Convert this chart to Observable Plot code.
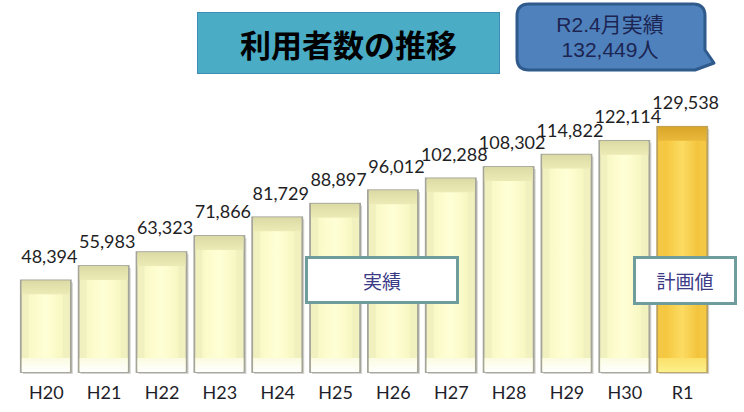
<!DOCTYPE html>
<html><head><meta charset="utf-8">
<script src="https://cdn.jsdelivr.net/npm/d3@7"></script>
<script src="https://cdn.jsdelivr.net/npm/@observablehq/plot@0.6"></script>
<style>
body{margin:0;background:#fff;}
#wrap{position:relative;width:744px;height:412px;overflow:hidden;font-family:"Noto Sans CJK JP",sans-serif;}
#chart{position:absolute;left:0;top:0;}
.title{position:absolute;left:197px;top:12px;width:301px;height:60px;background:#4bacc6;border:1px solid #3d8db5;
 display:flex;align-items:center;justify-content:center;font-size:31px;font-weight:bold;color:#000;}
.note{position:absolute;background:#fff;border:3px solid #6f9c9c;display:flex;align-items:center;justify-content:center;
 font-size:19px;color:#3a3a86;box-sizing:border-box;}
#callout{position:absolute;left:512px;top:0;}
</style></head>
<body>
<div id="wrap">
  <div id="chart"></div>
  <div class="title">利用者数の推移</div>
  <svg id="callout" width="220" height="80">
    <path d="M17,4 H181 Q193,4 193,16 V50 L202,63 L183,70 H17 Q5,70 5,58 V16 Q5,4 17,4 Z" fill="#4f81bd" stroke="#2f5a8c" stroke-width="3" stroke-linejoin="round"/>
    <text x="98" y="32" text-anchor="middle" font-size="21" fill="#1c2552" font-family="'Liberation Sans','Noto Sans CJK JP',sans-serif">R2.4月実績</text>
    <text x="98" y="57" text-anchor="middle" font-size="21" fill="#1c2552" font-family="'Liberation Sans','Noto Sans CJK JP',sans-serif">132,449人</text>
  </svg>
  <div class="note" style="left:305px;top:256px;width:154px;height:48px;">実績</div>
  <div class="note" style="left:633px;top:256px;width:104px;height:49px;">計画値</div>
</div>
<script>
const years = ["H20","H21","H22","H23","H24","H25","H26","H27","H28","H29","H30","R1"];
const values = [48394,55983,63323,71866,81729,88897,96012,102288,108302,114822,122114,129538];
const planYear = "R1";

const data = years.map((year, i) => ({year, value: values[i], plan: year === planYear}));
const fmt = d3.format(",");
const actual = d => !d.plan;
const plan = d => d.plan;

const bevel = 14;
const plot = Plot.plot({
  width: 744, height: 412,
  marginTop: 107, marginBottom: 40, marginLeft: 13, marginRight: 29,
  style: {background: "transparent", color: "#1e1e2a"},
  x: {domain: years, padding: 0.135, round: false, label: null},
  y: {domain: [0, 140000], axis: null},
  marks: [
    Plot.barY(data, {x: "year", y: "value", fill: "#d4d4d0", dx: 2, dy: 2}),
    Plot.barY(data, {filter: actual, x: "year", y: "value", fill: "#f1f1c0", stroke: "#a4a49a", strokeWidth: 1.8}),
    Plot.barY(data, {filter: plan, x: "year", y: "value", fill: "#f4c843", stroke: "#bca25c", strokeWidth: 1.8}),
    Plot.barY(data, {filter: actual, x: "year", y1: "value", y2: "value", insetBottom: -bevel, insetLeft: 1, insetRight: 1, fill: "url(#topY)"}),
    Plot.barY(data, {filter: plan, x: "year", y1: "value", y2: "value", insetBottom: -bevel, insetLeft: 1, insetRight: 1, fill: "url(#topG)"}),
    Plot.barY(data, {filter: actual, x: "year", y1: 0, y2: 0, insetTop: -bevel, insetLeft: 1, insetRight: 1, fill: "url(#botY)"}),
    Plot.barY(data, {filter: plan, x: "year", y1: 0, y2: 0, insetTop: -bevel, insetLeft: 1, insetRight: 1, fill: "url(#botG)"}),
    Plot.barY(data, {filter: actual, x: "year", y: "value", insetLeft: 8, insetRight: 8, insetTop: bevel, insetBottom: bevel, fill: "url(#faceY)"}),
    Plot.barY(data, {filter: plan, x: "year", y: "value", insetLeft: 8, insetRight: 8, insetTop: bevel, insetBottom: bevel, fill: "url(#faceG)"}),
    Plot.text(data, {x: "year", y: "value", text: d => fmt(d.value), dy: -24, dx: 3, fontSize: 18, fill: "#1e1e24", fontFamily: "Lato, 'Liberation Sans', sans-serif"}),
    Plot.axisX({tickSize: 0, tickPadding: 14, fontSize: 18, label: null, fontFamily: "Lato, 'Liberation Sans', sans-serif"})
  ]
});
plot.insertAdjacentHTML("afterbegin", `<defs>
  <linearGradient id="topY" x1="0" y1="0" x2="0" y2="1"><stop offset="0" stop-color="#dcdaa4"/><stop offset="1" stop-color="#ecebb6"/></linearGradient>
  <linearGradient id="botY" x1="0" y1="0" x2="0" y2="1"><stop offset="0" stop-color="#fbfbe0"/><stop offset="1" stop-color="#ffffff"/></linearGradient>
  <linearGradient id="faceY" x1="0" y1="0" x2="1" y2="0"><stop offset="0" stop-color="#f9f9c6"/><stop offset="0.5" stop-color="#ffffd6"/><stop offset="1" stop-color="#f7f7c2"/></linearGradient>
  <linearGradient id="topG" x1="0" y1="0" x2="0" y2="1"><stop offset="0" stop-color="#d9a62a"/><stop offset="1" stop-color="#eab83a"/></linearGradient>
  <linearGradient id="botG" x1="0" y1="0" x2="0" y2="1"><stop offset="0" stop-color="#fbe06a"/><stop offset="1" stop-color="#fdf08a"/></linearGradient>
  <linearGradient id="faceG" x1="0" y1="0" x2="1" y2="0"><stop offset="0" stop-color="#f5c63e"/><stop offset="0.5" stop-color="#fcdc62"/><stop offset="1" stop-color="#f3c23a"/></linearGradient>
</defs>`);
document.getElementById("chart").appendChild(plot);
</script>
</body></html>
